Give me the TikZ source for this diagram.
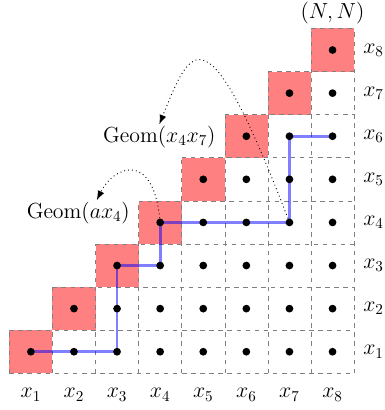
\documentclass[tikz,border=0pt]{standalone}
\usetikzlibrary{arrows.meta,backgrounds}
\definecolor{cellred}{HTML}{FF8080}
\definecolor{gridgray}{HTML}{808080}
\definecolor{routeblue}{HTML}{0000FF}
\tikzset{
  diagcell/.style={
    fill=cellred,
    minimum size=1cm,
    inner sep=0pt,
    outer sep=0pt
  },
  gridline/.style={draw=gridgray, dashed, thin},
  dotnode/.style={circle, fill=black, minimum size=0.18cm, inner sep=0pt},
  route/.style={draw=routeblue, opacity=0.5, line width=1.8pt},
  hop/.style={-{Latex[length=2.2mm,width=1.6mm]}, semithick, dotted},
  tag/.style={font=\Large, inner sep=1pt}
}
\begin{document}
\begin{tikzpicture}[x=1cm,y=1cm]
\useasboundingbox (-0.216,-0.852) rectangle (8.694,8.661);

% dots of the upper triangle
\foreach \i in {1,...,8}
  \foreach \j in {1,...,\i}
    \node[dotnode] (d\i\j) at (\i-0.5,\j-0.5) {};

\begin{pgfonlayer}{background}
  \foreach \i in {1,...,8}
    \node[diagcell] (c\i) at (\i-0.5,\i-0.5) {};
  \foreach \k in {0,...,8} {
    \draw[gridline] ({max(\k-1,0)},\k) -- (8,\k);
    \draw[gridline] (\k,0) -- (\k,{min(\k+1,8)});
  }
  \draw[route] (d11.center) -- (d31.center) -- (d33.center) -- (d43.center)
    -- (d44.center) -- (d74.center) -- (d76.center) -- (d86.center);
\end{pgfonlayer}

% axis labels
\foreach \i in {1,...,8} {
  \node[tag] (col\i) at (\i-0.5,-0.5) {$x_{\i}$};
  \node[tag] (row\i) at (8.45,\i-0.5) {$x_{\i}$};
}
\node[tag] (corner) at (7.5,8.35) {$(N,N)$};

\node[tag] (geomA) at (1.60,3.72) {$\mathrm{Geom}(ax_4)$};
\node[tag] (geomB) at (3.48,5.48) {$\mathrm{Geom}(x_4x_7)$};

\draw[hop] (d44) .. controls +(96:1.7) and +(64:0.86) .. ([xshift=0.43cm]geomA.north);
\draw[hop] (d74) .. controls +(111:5.41) and +(68:1.96) .. (geomB.north);

\end{tikzpicture}
\end{document}
